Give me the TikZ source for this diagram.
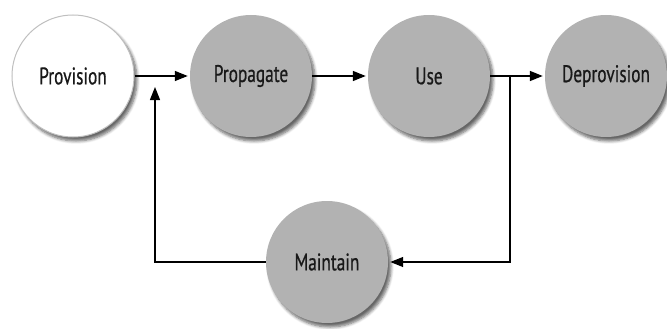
\documentclass[tikz,border=0pt]{standalone}
\usepackage{fontspec}
\setmainfont{PT Sans}[FakeStretch=0.72,FakeBold=0.6]
\usetikzlibrary{arrows.meta,shadows.blur}
\begin{document}
\begin{tikzpicture}[x=1pt,y=1pt,
  stage/.style={circle,minimum size=122pt,inner sep=0pt,draw=none,fill=black!30,
    text=black!90,font=\fontsize{24}{28}\selectfont,
    blur shadow={shadow xshift=3pt,shadow yshift=-4pt,shadow blur steps=6,shadow blur radius=3pt,shadow opacity=60}},
  startstage/.style={stage,fill=white,draw=black!25,line width=1pt},
  conn/.style={line width=1.3pt,draw=black},
  arr/.style={conn,-{Triangle[length=13pt,width=10pt]},shorten >=2pt}]
\useasboundingbox (0,0) rectangle (667,-329);
\node[startstage] (prov) at (73,-76) {Provision};
\node[stage] (prop) at (251,-76) {Propagate};
\node[stage] (use) at (429,-76) {Use};
\node[stage] (deprov) at (606,-76) {Deprovision};
\node[stage] (maint) at (327,-262) {Maintain};
\coordinate (j) at (510,-76);
\coordinate (k) at (155,-87);
\draw[arr] (prov) -- (prop);
\draw[arr] (prop) -- (use);
\draw[arr] (use) -- (deprov);
\draw[arr] (j) |- (maint);
\draw[arr,shorten >=0pt] (maint) -| (k);
\end{tikzpicture}
\end{document}
